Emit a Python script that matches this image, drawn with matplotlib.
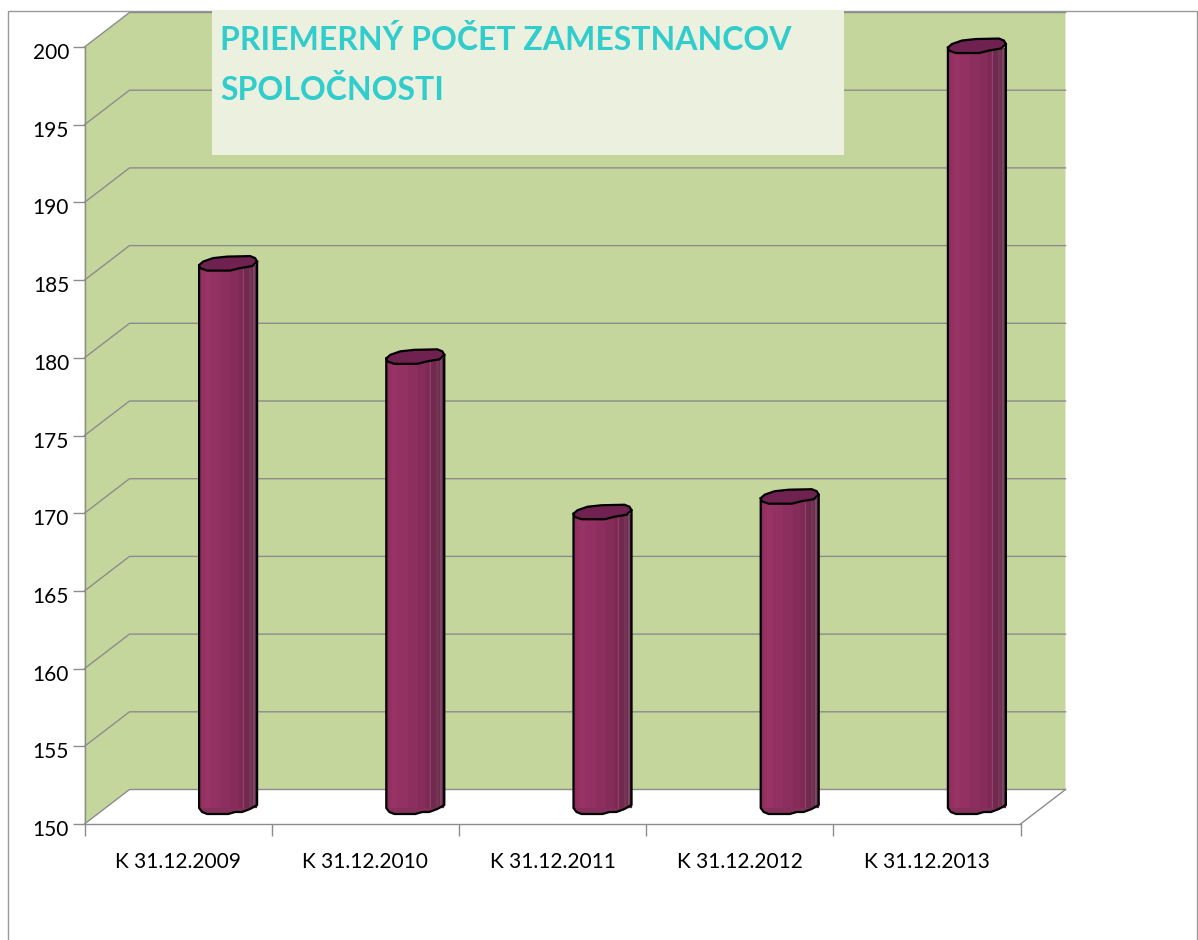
import numpy as np
import matplotlib
matplotlib.use("Agg")
import matplotlib.pyplot as plt
from matplotlib.patches import Polygon, Rectangle
from matplotlib.transforms import ScaledTranslation

plt.rcParams['font.family'] = ['Lato', 'DejaVu Sans']

# Data
categories = ["K 31.12.2009", "K 31.12.2010", "K 31.12.2011", "K 31.12.2012", "K 31.12.2013"]
values = [185, 179, 169, 170, 199]
y_ticks = [150, 155, 160, 165, 170, 175, 180, 185, 190, 195, 200]
title_lines = ["PRIEMERNÝ POČET ZAMESTNANCOV", "SPOLOČNOSTI"]

W, H = 1198, 940
left, right, top, bottom = 84.5, 1020.5, 47, 824
x_unit = (right - left) / len(categories)
y_unit = (bottom - top) / (y_ticks[-1] - y_ticks[0])

# depth of the fake 3d box, in pixels
depth_x, depth_y = 45, 34.5

wall = "#c5d69c"
grid = "#8c8c8c"

# bar shape, pixels relative to lower left of the top edge
cap_shape = [(0, -5), (4, -8.5), (14, -12), (28, -13.5), (51, -14), (56, -12), (58, -8.5),
             (53, -4), (41, -2), (31, 0.5), (8, 0.5), (1, -2)]
foot_shape = [(0, -6), (3, -2), (8, 0), (29, 0), (36, -2), (43, -2), (51, -5), (58, -9)]
strip_edges = [0, 3, 6, 12, 22, 32, 40, 44, 45, 48, 50, 53, 54, 56, 58]
strip_colors = ["#8a2f60", "#96315f", "#983366", "#933163", "#8c2f5f", "#852c5a", "#7e2954",
                "#8f4a70", "#742850", "#6f2a4f", "#763555", "#6c284c", "#7d4a65", "#642545"]


def dx(px):
    return px / x_unit


def dy(px):
    return px / y_unit


fig = plt.figure(figsize=(W / 100, H / 100), dpi=100, facecolor="white")
ax = fig.add_axes([left / W, 1 - bottom / H, (right - left) / W, (bottom - top) / H])
ax.set_xlim(0, len(categories))
ax.set_ylim(y_ticks[0], y_ticks[-1])
ax.patch.set_visible(False)

# outer chart border
fig.add_artist(Rectangle((7.5 / W, -0.01), (1197 - 7.5) / W, 1.01 - 11 / H, transform=fig.transFigure,
                         facecolor="none", edgecolor="#999999", linewidth=1.0, zorder=-1))

n = len(categories)
y0, y1 = y_ticks[0], y_ticks[-1]
ox, oy = dx(depth_x), dy(depth_y)
# side wall and back wall as one shape, so no seam shows
ax.add_patch(Polygon([(0, y0), (ox, y0 + oy), (n + ox, y0 + oy), (n + ox, y1 + oy), (ox, y1 + oy), (0, y1)],
                     facecolor=wall, edgecolor="none", clip_on=False, zorder=1))
# grid lines on the walls
for t in y_ticks:
    ax.plot([0, ox, n + ox], [t, t + oy, t + oy], color=grid, lw=1.0, clip_on=False, zorder=2)
ax.plot([n, n + ox], [y0, y0 + oy], color=grid, lw=1.0, clip_on=False, zorder=2)

# bars
bar_shift = dx(50)
bar_w = 58
lift = dy(10)
for i, v in enumerate(values):
    x_l = i + 0.5 + bar_shift - dx(bar_w / 2)
    y_b = y0 + lift
    y_t = v + lift
    for e0, e1, c in zip(strip_edges[:-1], strip_edges[1:], strip_colors):
        ax.add_patch(Polygon([(x_l + dx(e0), y_b + dy(6)), (x_l + dx(e1), y_b + dy(6)),
                              (x_l + dx(e1), y_t + dy(5)), (x_l + dx(e0), y_t + dy(5))],
                             facecolor=c, edgecolor=c, lw=0.2, clip_on=False, zorder=3))
    # rounded foot
    foot = [(x_l + dx(a), y_b - dy(b)) for a, b in foot_shape]
    ax.add_patch(Polygon(foot + [(x_l + dx(58), y_b + dy(12)), (x_l, y_b + dy(12))], facecolor="#86305c",
                         edgecolor="none", clip_on=False, zorder=2.9))
    # outline of sides and foot
    line_x = [x_l] + [p[0] for p in foot] + [x_l + dx(58)]
    line_y = [y_t + dy(5)] + [p[1] for p in foot] + [y_t + dy(8.5)]
    ax.plot(line_x, line_y, color="black", lw=1.6, clip_on=False, zorder=4, solid_joinstyle="round")
    # top cap
    cap = [(x_l + dx(a), y_t - dy(b)) for a, b in cap_shape]
    ax.add_patch(Polygon(cap, facecolor="#6f2250", edgecolor="black", lw=1.6, clip_on=False, zorder=5))

# axes
for s in ["top", "right"]:
    ax.spines[s].set_visible(False)
for s in ["left", "bottom"]:
    ax.spines[s].set_color(grid)
    ax.spines[s].set_linewidth(1.0)
    ax.spines[s].set_zorder(2)
ax.set_yticks(y_ticks)
ax.set_xticks(np.arange(n + 1))
ax.set_xticklabels([])
ax.set_xticks(np.arange(n) + 0.5, minor=True)
ax.set_xticklabels(categories, minor=True)
ax.tick_params(axis="y", length=8.6, width=1.0, color=grid, labelsize=15, pad=2.5)
ax.tick_params(axis="x", which="major", length=8.6, width=1.0, color=grid)
ax.tick_params(axis="x", which="minor", length=0, labelsize=15, pad=20)
# labels of the value axis sit a little below their ticks
shift = ScaledTranslation(0, -4 / 100, fig.dpi_scale_trans)
for lab in ax.get_yticklabels():
    lab.set_transform(lab.get_transform() + shift)

# title box
box = fig.add_axes([212 / W, 1 - 155 / H, (844 - 212) / W, (155 - 10) / H], zorder=10)
box.set_facecolor("#ebf0df")
box.set_xticks([])
box.set_yticks([])
for s in box.spines.values():
    s.set_visible(False)
box.text(8 / 632, 1 - 40 / 145, title_lines[0], transform=box.transAxes, color="#31cccc", fontsize=23,
         fontweight="bold", va="baseline", ha="left")
box.text(8 / 632, 1 - 90 / 145, title_lines[1], transform=box.transAxes, color="#31cccc", fontsize=23,
         fontweight="bold", va="baseline", ha="left")

fig.savefig("out.png", dpi=100)
